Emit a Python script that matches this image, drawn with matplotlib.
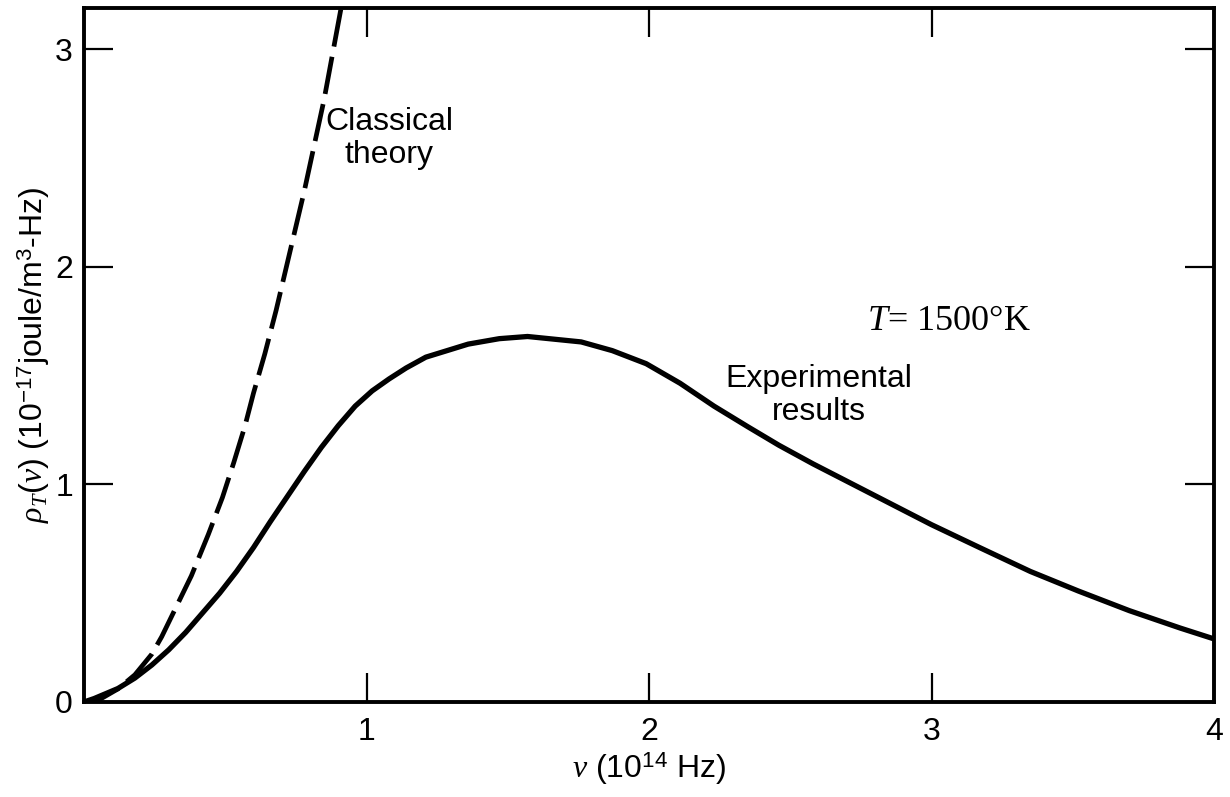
import matplotlib
matplotlib.use('Agg')
import matplotlib.pyplot as plt

# values
nu_exp = [0.0, 0.036, 0.12, 0.18, 0.24, 0.30, 0.36, 0.42, 0.48, 0.54, 0.60, 0.66,
          0.72, 0.78, 0.84, 0.90, 0.96, 1.02, 1.08, 1.14, 1.21, 1.36, 1.47, 1.57,
          1.76, 1.87, 1.99, 2.11, 2.23, 2.35, 2.46, 2.58, 2.70, 2.82, 2.88, 3.00,
          3.17, 3.35, 3.52, 3.70, 3.88, 4.00]
rho_exp = [0.0, 0.016, 0.062, 0.11, 0.17, 0.24, 0.32, 0.41, 0.50, 0.60, 0.71, 0.83,
           0.945, 1.06, 1.17, 1.27, 1.36, 1.43, 1.485, 1.535, 1.585, 1.645, 1.67, 1.68,
           1.655, 1.615, 1.555, 1.465, 1.36, 1.265, 1.18, 1.095, 1.015, 0.935, 0.895,
           0.815, 0.71, 0.60, 0.51, 0.42, 0.34, 0.29]

nu_cls = [0.0, 0.06, 0.12, 0.18, 0.24, 0.275, 0.32, 0.38, 0.44, 0.49, 0.53, 0.57,
          0.60, 0.64, 0.68, 0.78, 0.85, 0.92]
rho_cls = [0.0, 0.015, 0.06, 0.125, 0.22, 0.30, 0.42, 0.58, 0.77, 0.94, 1.10, 1.27,
           1.42, 1.60, 1.80, 2.35, 2.77, 3.26]

xticks = [1, 2, 3, 4]
yticks = [0, 1, 2, 3]

plt.rcParams['font.family'] = ['Liberation Sans', 'DejaVu Sans']
plt.rcParams['mathtext.fontset'] = 'custom'
plt.rcParams['mathtext.rm'] = 'Liberation Sans'
plt.rcParams['mathtext.it'] = 'Liberation Serif:italic'

fig = plt.figure(figsize=(12.3, 7.97), dpi=100)
ax = fig.add_axes([0.0683, 0.1192, 0.9187, 0.8708])

ax.plot(nu_exp, rho_exp, color='black', lw=3.8, solid_joinstyle='round',
        solid_capstyle='butt')
ax.plot(nu_cls, rho_cls, color='black', lw=3.4, dashes=(8, 2.2),
        dash_joinstyle='round')

ax.set_xlim(0, 4)
ax.set_ylim(0, 3.19)
ax.set_xticks(xticks)
ax.set_yticks(yticks)
ax.tick_params(direction='in', length=21, width=1.6, top=True, right=True,
               labelsize=23)
ax.tick_params(axis='x', pad=11)
ax.tick_params(axis='y', pad=8)
for s in ax.spines.values():
    s.set_linewidth(2.8)

ax.set_xlabel(r'$\nu$ (10$^{14}$ Hz)', fontsize=23, labelpad=2)
ax.set_ylabel(r'$\rho_T(\nu)$ (10$^{-17}$joule/m$^3$-Hz)', fontsize=23, labelpad=2)

ax.text(1.08, 2.59, 'Classical\ntheory', fontsize=23, ha='center', va='center',
        linespacing=1.15)
ax.text(2.6, 1.41, 'Experimental\nresults', fontsize=23, ha='center', va='center',
        linespacing=1.15)
ax.text(2.77, 1.75, r'$T$= 1500°K', fontsize=26, ha='left', va='center',
        family=['Liberation Serif'])

fig.savefig('out.png', dpi=100)
